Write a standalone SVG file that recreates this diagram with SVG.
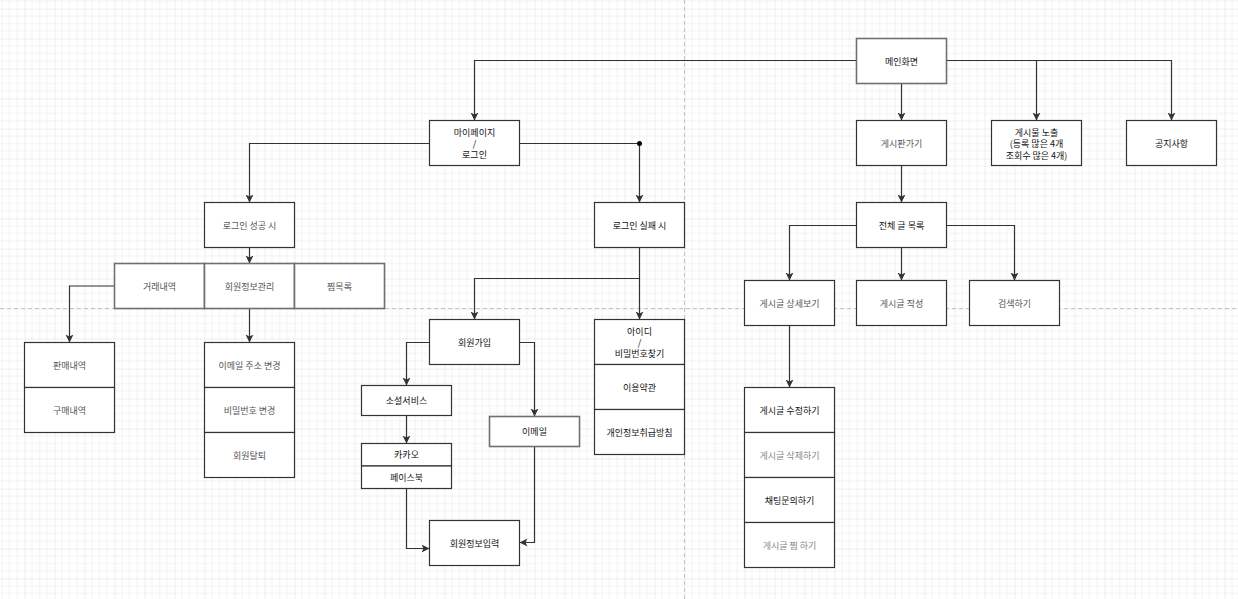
<svg xmlns="http://www.w3.org/2000/svg" width="1238" height="599" viewBox="0 0 1238 599">
<style>
  .box{fill:#fff;stroke:#333;stroke-width:1.2}
  .boxg{fill:#fff;stroke:#707070;stroke-width:1.6}
  .t{font-family:"Noto Sans CJK KR","Noto Sans",sans-serif;font-size:9px;text-anchor:middle;dominant-baseline:central;fill:#111}
  .g{fill:#555}
  .l{fill:#888}
  .edge{fill:none;stroke:#333;stroke-width:1.2}
</style>
<defs>
  <pattern id="grid" x="24.5" y="8.5" width="30" height="30" patternUnits="userSpaceOnUse">
    <rect width="30" height="30" fill="#fff"/>
    <path d="M7.5,0V30M15,0V30M22.5,0V30M0,7.5H30M0,15H30M0,22.5H30" stroke="#f2f2f2" stroke-width="1"/>
    <path d="M0,0V30M0,0H30" stroke="#dedede" stroke-width="1"/>
  </pattern>
  <marker id="arr" markerUnits="userSpaceOnUse" markerWidth="9" markerHeight="9" refX="8" refY="4.5" orient="auto">
    <path d="M0,0.5 L8,4.5 L0,8.5 L2,4.5 Z" fill="#333"/>
  </marker>
</defs>
<rect width="1238" height="599" fill="url(#grid)"/>
<path d="M684.5,0V599M0,308.5H1238" stroke="#c4c4c4" stroke-width="1" stroke-dasharray="4 3" fill="none"/>

<g id="connectors">
  <path class="edge" d="M856.5,60.5H474.5V120.5" marker-end="url(#arr)"/>
  <path class="edge" d="M901.5,83.5V120.5" marker-end="url(#arr)"/>
  <path class="edge" d="M946.5,60.5H1036.5V120.5" marker-end="url(#arr)"/>
  <path class="edge" d="M1036.5,60.5H1171.5V120.5" marker-end="url(#arr)"/>
  <path class="edge" d="M429.5,143.5H249.5V202.5" marker-end="url(#arr)"/>
  <path class="edge" d="M519.5,143.5H639.5V202.5" marker-end="url(#arr)"/>
  <circle cx="639.5" cy="143.5" r="2.5" fill="#000"/>
  <path class="edge" d="M249.5,247.5V263.5" marker-end="url(#arr)"/>
  <path class="edge" d="M114.5,286H69.5V342.5" marker-end="url(#arr)"/>
  <path class="edge" d="M249.5,308.5V342.5" marker-end="url(#arr)"/>
  <path class="edge" d="M639.5,247.5V319.5" marker-end="url(#arr)"/>
  <path class="edge" d="M639.5,278.5H474.5V319.5" marker-end="url(#arr)"/>
  <path class="edge" d="M429.5,342.5H406.5V385.5" marker-end="url(#arr)"/>
  <path class="edge" d="M519.5,342.5H534.5V416.5" marker-end="url(#arr)"/>
  <path class="edge" d="M406.5,415.5V443.5" marker-end="url(#arr)"/>
  <path class="edge" d="M406.5,488.5V548.5H429.5" marker-end="url(#arr)"/>
  <path class="edge" d="M534.5,446.5V542.5H519.5" marker-end="url(#arr)"/>
  <path class="edge" d="M901.5,165.5V202.5" marker-end="url(#arr)"/>
  <path class="edge" d="M856.5,225.5H789.5V280.5" marker-end="url(#arr)"/>
  <path class="edge" d="M901.5,247.5V280.5" marker-end="url(#arr)"/>
  <path class="edge" d="M946.5,225.5H1014.5V280.5" marker-end="url(#arr)"/>
  <path class="edge" d="M789.5,325.5V387.5" marker-end="url(#arr)"/>
</g>

<g id="main"><rect class="boxg" x="856.5" y="38.5" width="90" height="45"/><text class="t" x="901.5" y="61">메인화면</text></g>
<g id="mypage"><rect class="box" x="429.5" y="120.5" width="90" height="45"/>
  <text class="t" x="474.5" y="132.5">마이페이지</text><text class="t" x="474.5" y="143.5">/</text><text class="t" x="474.5" y="154.5">로그인</text></g>
<g id="board"><rect class="box" x="856.5" y="120.5" width="90" height="45"/><text class="t g" x="901.5" y="143">게시판가기</text></g>
<g id="expose"><rect class="box" x="991.5" y="120.5" width="90" height="45"/>
  <text class="t" x="1036.5" y="132">게시물 노출</text><text class="t" x="1036.5" y="143.5">(등록 많은 4개</text><text class="t" x="1036.5" y="155">조회수 많은 4개)</text></g>
<g id="notice"><rect class="box" x="1126.5" y="120.5" width="90" height="45"/><text class="t" x="1171.5" y="143">공지사항</text></g>

<g id="login-ok"><rect class="box" x="204.5" y="202.5" width="90" height="45"/><text class="t g" x="249.5" y="225">로그인 성공 시</text></g>
<g id="login-fail"><rect class="box" x="594.5" y="202.5" width="90" height="45"/><text class="t" x="639.5" y="225">로그인 실패 시</text></g>

<g id="trade"><rect class="boxg" x="114.5" y="263.5" width="90" height="45"/><text class="t g" x="159.5" y="286">거래내역</text></g>
<g id="member-manage"><rect class="boxg" x="204.5" y="263.5" width="90" height="45"/><text class="t g" x="249.5" y="286">회원정보관리</text></g>
<g id="wishlist"><rect class="boxg" x="294.5" y="263.5" width="90" height="45"/><text class="t g" x="339.5" y="286">찜목록</text></g>

<g id="sales"><rect class="box" x="24.5" y="342.5" width="90" height="45"/><text class="t g" x="69.5" y="365">판매내역</text></g>
<g id="purchase"><rect class="box" x="24.5" y="387.5" width="90" height="45"/><text class="t g" x="69.5" y="410">구매내역</text></g>

<g id="email-change"><rect class="box" x="204.5" y="342.5" width="90" height="45"/><text class="t g" x="249.5" y="365">이메일 주소 변경</text></g>
<g id="pw-change"><rect class="box" x="204.5" y="387.5" width="90" height="45"/><text class="t g" x="249.5" y="410">비밀번호 변경</text></g>
<g id="withdraw"><rect class="box" x="204.5" y="432.5" width="90" height="45"/><text class="t g" x="249.5" y="455">회원탈퇴</text></g>

<g id="signup"><rect class="box" x="429.5" y="319.5" width="90" height="45"/><text class="t" x="474.5" y="342">회원가입</text></g>
<g id="find-id"><rect class="box" x="594.5" y="319.5" width="90" height="45"/>
  <text class="t" x="639.5" y="331">아이디</text><text class="t" x="639.5" y="342">/</text><text class="t" x="639.5" y="353">비밀번호찾기</text></g>
<g id="terms"><rect class="box" x="594.5" y="364.5" width="90" height="45"/><text class="t" x="639.5" y="387">이용약관</text></g>
<g id="privacy"><rect class="box" x="594.5" y="409.5" width="90" height="45"/><text class="t" x="639.5" y="432">개인정보취급방침</text></g>

<g id="social"><rect class="box" x="361.5" y="385.5" width="90" height="30"/><text class="t" x="406.5" y="400.5">소셜서비스</text></g>
<g id="kakao"><rect class="box" x="361.5" y="443.5" width="90" height="22.5"/><text class="t" x="406.5" y="454.5">카카오</text></g>
<g id="facebook"><rect class="box" x="361.5" y="466" width="90" height="22.5"/><text class="t" x="406.5" y="477">페이스북</text></g>
<g id="email"><rect class="boxg" x="489.5" y="416.5" width="90" height="30"/><text class="t" x="534.5" y="431.5">이메일</text></g>
<g id="member-input"><rect class="box" x="429.5" y="520.5" width="90" height="45"/><text class="t" x="474.5" y="543">회원정보입력</text></g>

<g id="all-posts"><rect class="box" x="856.5" y="202.5" width="90" height="45"/><text class="t" x="901.5" y="225">전체 글 목록</text></g>
<g id="post-detail"><rect class="box" x="744.5" y="280.5" width="90" height="45"/><text class="t g" x="789.5" y="303">게시글 상세보기</text></g>
<g id="post-write"><rect class="box" x="856.5" y="280.5" width="90" height="45"/><text class="t g" x="901.5" y="303">게시글 작성</text></g>
<g id="search"><rect class="box" x="969.5" y="280.5" width="90" height="45"/><text class="t g" x="1014.5" y="303">검색하기</text></g>

<g id="post-edit"><rect class="box" x="744.5" y="387.5" width="90" height="45"/><text class="t" x="789.5" y="410">게시글 수정하기</text></g>
<g id="post-delete"><rect class="box" x="744.5" y="432.5" width="90" height="45"/><text class="t l" x="789.5" y="455">게시글 삭제하기</text></g>
<g id="chat"><rect class="box" x="744.5" y="477.5" width="90" height="45"/><text class="t" x="789.5" y="500">채팅문의하기</text></g>
<g id="post-wish"><rect class="box" x="744.5" y="522.5" width="90" height="45"/><text class="t l" x="789.5" y="545">게시글 찜 하기</text></g>
</svg>
